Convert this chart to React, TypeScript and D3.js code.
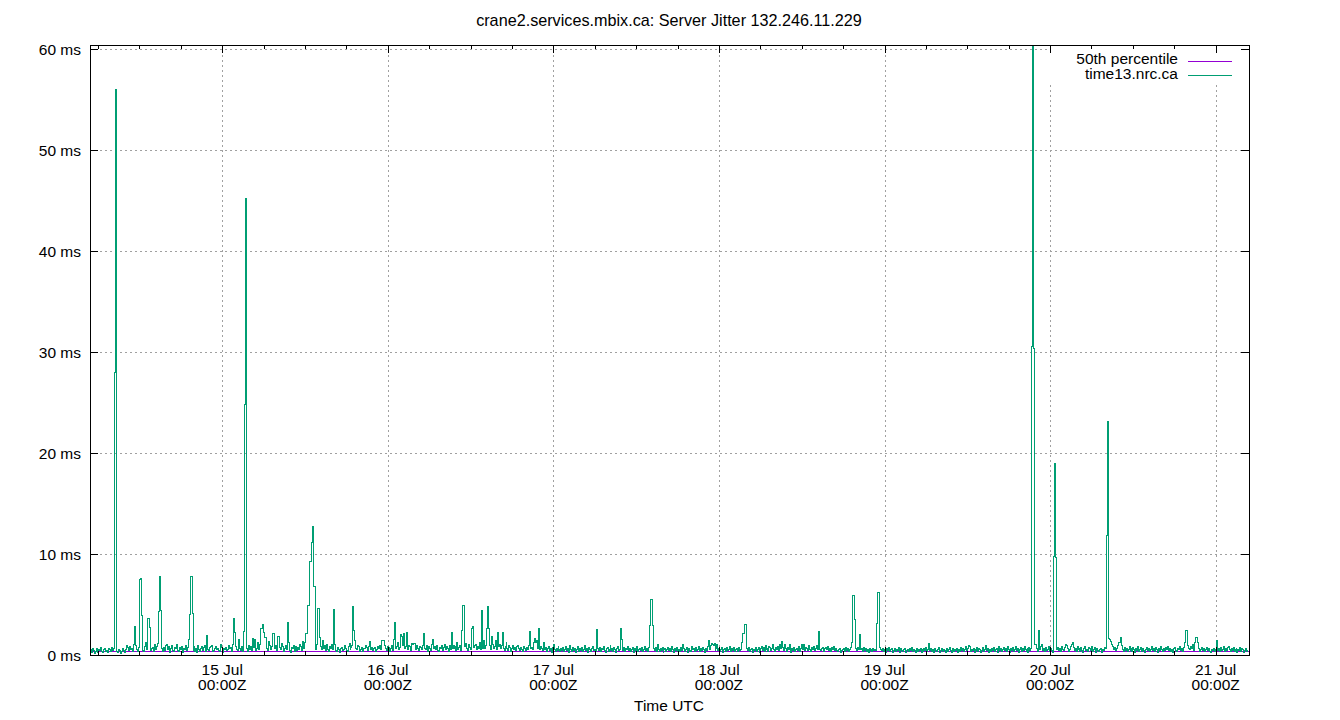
import React from "react";
import * as d3 from "d3";

const TITLE = "crane2.services.mbix.ca: Server Jitter 132.246.11.229";
const X_LABEL = "Time UTC";
const SERIES_NAMES = ["50th percentile", "time13.nrc.ca"];
const START_UTC = Date.UTC(2023, 6, 14, 4, 50);
const END_UTC = Date.UTC(2023, 6, 21, 4, 50);
const STEP_SECONDS = 512;
const MEDIAN_MS = 0.38;
const Y_MAX = 60.4;
const Y_TICKS = [0, 10, 20, 30, 40, 50, 60];
const DAY_TICKS = [15, 16, 17, 18, 19, 20, 21];

// jitter (ms), one sample every STEP_SECONDS from START_UTC
const JITTER_MS = [
  0.3, 0.5, 0.2, 0.6, 0.4, 0.1, 0.3, 0.6, 0.2, 0.5, 0.4, 0.7, 0.3, 0.2, 0.5, 0.6, 0.3, 0.4, 0.2, 0.6,
  0.5, 0.3, 0.7, 0.4, 0.6, 28.0, 56.0, 0.3, 0.2, 0.5, 0.4, 0.1, 0.3, 0.6, 0.4, 0.2, 0.5, 0.9, 0.7, 0.4,
  0.8, 0.5, 0.6, 0.3, 1.0, 2.8, 0.9, 0.5, 0.3, 0.7, 7.5, 7.6, 3.9, 0.6, 0.4, 0.3, 0.8, 1.2, 0.5, 3.6,
  3.6, 2.7, 0.4, 0.6, 0.7, 0.3, 1.0, 0.5, 0.8, 1.1, 4.3, 7.8, 4.4, 0.6, 0.3, 0.7, 0.4, 0.9, 1.0, 0.5,
  0.8, 0.2, 0.6, 0.9, 0.4, 0.3, 0.7, 0.6, 1.0, 0.4, 0.3, 0.7, 0.5, 0.8, 0.2, 0.6, 0.5, 0.9, 0.4, 0.7,
  1.5, 4.0, 7.8, 7.8, 4.1, 0.4, 0.8, 0.3, 0.6, 0.2, 0.9, 0.5, 0.3, 0.6, 0.8, 0.4, 0.7, 0.9, 0.3, 1.9,
  0.5, 0.4, 0.7, 0.8, 0.9, 0.3, 0.4, 0.6, 0.8, 0.5, 0.6, 0.4, 0.3, 1.0, 0.7, 0.2, 0.6, 0.5, 0.7, 0.4,
  0.5, 0.9, 0.6, 0.7, 0.3, 1.0, 3.6, 2.2, 0.8, 0.5, 0.4, 1.5, 0.6, 0.4, 0.8, 0.3, 2.3, 24.8, 45.2, 45.0,
  0.6, 0.3, 0.9, 0.5, 0.8, 0.4, 1.6, 0.7, 1.5, 0.4, 0.6, 1.2, 0.5, 1.0, 2.6, 2.6, 3.0, 2.2, 1.7, 1.7,
  0.6, 0.4, 1.3, 0.9, 0.5, 0.8, 2.1, 2.1, 0.6, 0.9, 0.4, 1.8, 1.8, 0.7, 0.5, 1.1, 0.8, 0.3, 0.6, 0.9,
  0.5, 3.2, 1.2, 0.4, 0.2, 0.7, 0.6, 0.9, 0.3, 0.8, 0.4, 0.7, 0.6, 0.5, 1.0, 0.8, 0.4, 1.3, 0.6, 1.2,
  2.1, 2.1, 4.9, 4.9, 9.3, 9.3, 11.1, 12.7, 6.8, 6.8, 0.5, 1.0, 4.6, 4.6, 1.7, 0.8, 0.5, 1.4, 0.6, 0.9,
  0.4, 1.0, 0.5, 0.3, 0.8, 0.6, 1.0, 0.5, 4.5, 1.0, 0.4, 0.3, 0.7, 0.5, 0.2, 0.6, 0.7, 0.4, 0.5, 0.9,
  0.6, 0.4, 0.3, 0.8, 1.1, 0.5, 0.7, 0.9, 4.8, 2.4, 1.4, 0.6, 0.5, 0.9, 0.8, 0.3, 0.5, 0.7, 0.3, 0.6,
  0.6, 0.9, 0.7, 0.4, 0.8, 1.3, 0.5, 0.7, 0.4, 0.6, 0.7, 0.3, 0.5, 0.8, 0.6, 0.9, 0.5, 1.4, 1.4, 1.4,
  0.9, 0.6, 0.4, 0.8, 0.7, 0.3, 0.6, 0.9, 0.4, 1.5, 3.2, 0.6, 0.8, 1.2, 0.5, 0.7, 2.0, 1.8, 1.8, 0.9,
  2.1, 0.6, 0.8, 2.2, 0.5, 0.9, 0.8, 0.4, 1.1, 1.0, 1.1, 1.1, 0.5, 0.9, 0.6, 0.4, 0.8, 0.7, 0.5, 0.9,
  2.1, 0.6, 0.5, 0.9, 0.3, 0.8, 0.6, 0.4, 1.0, 1.5, 0.6, 0.8, 0.5, 0.9, 0.4, 0.3, 0.7, 0.6, 0.9, 0.4,
  0.7, 1.0, 0.5, 0.8, 0.6, 0.3, 0.9, 0.5, 2.2, 0.6, 0.9, 0.6, 0.8, 0.4, 1.2, 0.5, 0.7, 0.9, 0.4, 2.4,
  4.9, 4.9, 0.8, 1.1, 0.6, 0.4, 1.0, 0.7, 0.5, 2.6, 2.8, 0.7, 0.9, 1.0, 0.5, 0.8, 0.6, 1.2, 0.5, 4.4,
  0.6, 1.4, 0.6, 0.9, 2.6, 4.8, 2.6, 0.9, 0.5, 1.8, 1.0, 0.6, 0.8, 1.4, 0.5, 2.2, 0.8, 1.0, 0.6, 0.9,
  2.2, 0.6, 0.4, 0.8, 1.2, 0.6, 0.4, 0.9, 0.7, 0.3, 0.6, 0.9, 0.5, 0.7, 0.4, 0.8, 0.9, 0.6, 0.4, 0.7,
  0.5, 0.3, 0.8, 0.6, 0.4, 0.7, 0.5, 0.9, 2.3, 0.6, 0.7, 0.5, 1.2, 1.6, 1.2, 1.4, 0.6, 2.6, 0.5, 0.8,
  0.6, 0.4, 1.2, 0.5, 0.7, 0.3, 0.6, 0.8, 0.4, 0.6, 0.2, 0.7, 1.0, 0.5, 0.3, 0.6, 0.4, 0.8, 0.5, 0.3,
  0.6, 0.4, 0.7, 0.3, 0.5, 0.8, 0.4, 0.6, 0.2, 0.9, 0.5, 0.3, 0.7, 0.4, 0.6, 0.2, 0.5, 0.8, 0.3, 0.6,
  0.4, 0.7, 0.3, 0.5, 0.9, 0.4, 0.6, 0.2, 0.7, 0.5, 0.3, 0.6, 0.8, 0.4, 0.5, 0.3, 2.5, 0.6, 0.4, 0.7,
  0.3, 0.6, 0.5, 0.8, 0.4, 0.2, 0.6, 0.7, 0.3, 0.5, 0.9, 0.4, 0.6, 0.3, 0.7, 0.5, 0.2, 0.6, 0.8, 0.4,
  0.5, 2.6, 1.5, 0.4, 0.7, 0.3, 0.6, 0.5, 0.8, 0.4, 0.6, 0.3, 0.5, 0.7, 0.2, 0.6, 0.4, 0.8, 0.3, 0.5,
  0.6, 0.4, 0.7, 0.3, 0.5, 0.8, 0.4, 0.6, 0.3, 0.7, 2.9, 5.5, 5.5, 2.9, 0.6, 0.4, 0.7, 0.3, 1.0, 0.5,
  0.3, 0.6, 0.4, 0.7, 0.2, 0.5, 0.6, 0.3, 0.5, 0.7, 0.4, 0.6, 0.3, 0.8, 0.5, 0.2, 0.6, 0.4, 0.7, 0.3,
  0.5, 0.3, 0.7, 0.4, 1.0, 0.6, 0.3, 0.5, 0.7, 0.2, 0.6, 0.4, 0.3, 0.8, 0.5, 0.6, 0.3, 0.7, 0.4, 0.5,
  0.8, 0.3, 0.6, 0.4, 0.7, 0.5, 0.2, 0.6, 0.4, 0.8, 1.4, 0.5, 0.9, 1.1, 1.0, 0.9, 1.1, 0.4, 0.6, 1.0,
  0.4, 0.6, 0.3, 0.5, 0.7, 0.2, 0.5, 0.6, 0.3, 0.7, 0.4, 0.5, 0.8, 0.3, 0.6, 0.4, 0.7, 0.3, 0.5, 0.6,
  0.3, 0.7, 0.4, 0.5, 1.2, 2.1, 2.1, 3.0, 3.0, 0.6, 0.4, 0.7, 0.3, 0.5, 0.6, 0.2, 0.5, 0.4, 0.7, 0.3,
  0.5, 0.7, 0.2, 0.6, 0.8, 0.4, 0.7, 0.3, 0.9, 0.5, 0.6, 0.3, 0.8, 0.7, 0.4, 0.6, 1.0, 0.5, 0.3, 0.7,
  0.5, 0.8, 0.4, 1.0, 0.6, 1.3, 0.7, 0.4, 1.0, 0.6, 0.3, 0.7, 0.5, 1.0, 0.2, 0.6, 0.4, 0.7, 0.3, 0.5,
  0.6, 0.4, 0.8, 0.3, 0.6, 1.0, 0.5, 1.0, 0.4, 0.7, 0.6, 0.4, 0.9, 0.5, 0.3, 0.7, 0.5, 0.8, 0.4, 0.6,
  0.9, 0.5, 2.3, 0.8, 0.5, 0.4, 0.6, 0.7, 0.3, 0.6, 0.7, 0.5, 0.8, 0.4, 0.6, 0.3, 0.7, 0.5, 0.8, 0.4,
  0.6, 0.4, 0.3, 0.5, 0.6, 0.2, 0.4, 0.5, 0.6, 0.3, 0.7, 0.4, 0.6, 0.3, 0.5, 0.7, 1.2, 5.9, 5.9, 3.5,
  0.6, 0.4, 0.7, 0.5, 2.0, 0.5, 0.6, 0.3, 0.7, 0.4, 0.6, 0.3, 0.5, 0.2, 0.6, 0.4, 0.5, 0.3, 0.6, 0.4,
  0.5, 0.4, 3.1, 6.2, 6.2, 0.7, 0.5, 0.4, 0.6, 0.3, 0.5, 0.2, 0.6, 0.4, 0.7, 0.3, 0.5, 0.6, 0.2, 0.4,
  0.6, 0.3, 0.5, 0.4, 0.7, 0.2, 0.6, 0.4, 0.3, 0.5, 0.6, 0.2, 0.4, 0.5, 0.3, 0.6, 0.4, 0.7, 0.3, 0.5,
  0.4, 0.2, 0.6, 0.3, 0.5, 0.4, 0.6, 0.2, 0.5, 0.3, 0.6, 0.4, 0.7, 0.3, 0.5, 1.1, 0.4, 0.6, 0.3, 0.5,
  0.2, 0.6, 0.4, 0.3, 0.5, 0.7, 0.2, 0.4, 0.6, 0.3, 0.5, 0.4, 0.2, 0.6, 0.3, 0.5, 0.7, 0.4, 0.2, 0.6,
  0.3, 0.5, 0.4, 0.6, 0.2, 0.5, 0.3, 0.7, 0.4, 0.6, 0.3, 0.5, 0.8, 0.4, 0.6, 0.9, 0.8, 0.3, 0.5, 0.4,
  0.6, 0.2, 0.5, 0.4, 0.7, 0.3, 0.6, 0.5, 0.2, 0.4, 0.7, 0.3, 0.5, 0.9, 0.4, 0.6, 0.2, 0.5, 0.3, 0.6,
  0.4, 0.7, 0.3, 0.5, 0.6, 0.2, 0.8, 0.4, 0.6, 0.3, 0.5, 0.7, 0.4, 0.6, 0.3, 0.8, 0.5, 0.2, 0.6, 0.4,
  0.7, 0.3, 0.5, 0.8, 0.4, 0.6, 0.2, 0.5, 0.7, 0.3, 0.6, 0.4, 0.8, 0.5, 0.3, 0.6, 0.2, 0.7, 0.4, 0.6,
  30.5, 62.0, 30.3, 1.0, 1.0, 0.6, 0.3, 2.4, 0.5, 0.8, 1.0, 0.4, 0.6, 0.3, 0.7, 0.4, 0.5, 0.8, 0.3, 0.6,
  0.4, 0.2, 9.8, 19.0, 9.7, 0.5, 0.7, 0.4, 0.6, 0.3, 0.8, 0.5, 0.4, 0.7, 1.0, 0.9, 0.6, 0.3, 0.5, 0.8,
  1.0, 1.2, 0.7, 0.4, 0.6, 0.3, 0.8, 0.5, 0.6, 0.3, 0.7, 0.4, 0.2, 0.6, 0.8, 0.4, 0.5, 0.3, 0.7, 0.6,
  0.4, 0.8, 0.3, 0.5, 0.7, 0.2, 0.6, 0.4, 0.3, 0.5, 0.6, 0.2, 0.5, 0.4, 0.7, 0.6, 11.8, 23.1, 1.6, 1.5,
  1.3, 1.0, 0.8, 0.5, 0.7, 0.4, 0.6, 0.9, 1.2, 1.2, 1.7, 0.9, 0.5, 0.3, 0.7, 0.4, 0.6, 0.3, 0.5, 0.8,
  0.4, 0.6, 0.3, 0.7, 0.5, 0.2, 0.6, 0.4, 0.8, 0.3, 0.5, 0.7, 0.3, 0.6, 0.4, 0.2, 0.5, 0.7, 0.4, 0.6,
  0.3, 0.5, 0.8, 0.4, 0.6, 0.3, 0.7, 0.5, 0.2, 0.6, 0.4, 0.8, 0.5, 0.3, 0.6, 0.4, 0.7, 0.5, 0.8, 0.4,
  0.6, 0.3, 0.5, 0.2, 0.6, 0.7, 0.4, 0.3, 0.6, 0.5, 0.8, 0.4, 0.6, 0.3, 0.5, 0.7, 1.2, 2.4, 2.4, 0.9,
  0.6, 0.5, 0.8, 0.6, 1.0, 0.4, 1.2, 1.7, 1.7, 1.2, 0.6, 0.3, 0.5, 0.7, 0.4, 0.6, 0.3, 0.5, 0.7, 0.4,
  0.6, 0.3, 0.2, 0.5, 0.4, 0.6, 0.3, 0.5, 1.4, 0.4, 0.6, 0.3, 0.7, 0.4, 0.5, 0.8, 0.3, 0.6, 0.4, 0.7,
  0.8, 0.5, 0.3, 0.6, 0.4, 0.7, 0.3, 0.5, 0.6, 0.2, 0.5, 0.4, 0.7, 0.3, 0.6, 0.5, 0.2, 0.4, 0.6, 0.3,
  0.5,
];

const W = 1340;
const H = 720;
const M = { left: 90, right: 1249, top: 45, bottom: 655 };
const FONT = "'Liberation Sans', Arial, sans-serif";
const FS = 15.5;
const GREEN = "#009e73";
const PURPLE = "#9400d3";
const GRID = "#a0a0a0";

export default function App() {
  const x = d3.scaleUtc().domain([new Date(START_UTC), new Date(END_UTC)]).range([M.left, M.right]);
  const y = d3.scaleLinear().domain([0, Y_MAX]).range([M.bottom, M.top]);

  const pts = JITTER_MS.map((v, i) => ({ t: new Date(START_UTC + i * STEP_SECONDS * 1000), v }));
  const line = d3
    .line<{ t: Date; v: number }>()
    .x((d) => x(d.t))
    .y((d) => y(d.v))
    .curve(d3.curveStepAfter);
  const medPts = [
    { t: new Date(START_UTC), v: MEDIAN_MS },
    { t: new Date(END_UTC), v: MEDIAN_MS },
  ];
  const medLine = d3
    .line<{ t: Date; v: number }>()
    .x((d) => x(d.t))
    .y((d) => y(d.v));

  const days = DAY_TICKS.map((d) => new Date(Date.UTC(2023, 6, d)));
  const minor = d3.utcHour
    .every(6)!
    .range(new Date(START_UTC), new Date(END_UTC))
    .filter((d) => d.getUTCHours() !== 0);

  const majorLen = 8;
  const minorLen = 4;

  return (
    <svg
      width={W}
      height={H}
      style={{ position: "absolute", left: 0, top: 0, background: "#fff" }}
      fontFamily={FONT}
      fontSize={FS}
    >
      <defs>
        <clipPath id="plot">
          <rect x={M.left} y={M.top} width={M.right - M.left} height={M.bottom - M.top} />
        </clipPath>
      </defs>
      <rect x={0} y={0} width={W} height={H} fill="#fff" />
      {/* grid */}
      <g stroke={GRID} strokeWidth={1} strokeDasharray="2,3" shapeRendering="crispEdges">
        {Y_TICKS.filter((t) => t > 0).map((t) => (
          <line key={"gy" + t} x1={M.left} x2={M.right} y1={Math.round(y(t)) + 0.5} y2={Math.round(y(t)) + 0.5} />
        ))}
        {days.map((d, i) => (
          <line key={"gx" + i} x1={Math.round(x(d)) + 0.5} x2={Math.round(x(d)) + 0.5} y1={M.top} y2={M.bottom} />
        ))}
      </g>
      {/* legend background */}
      <rect x={1049} y={M.top + 1} width={M.right - 1049 - 1} height={36} fill="#fff" />
      {/* data */}
      <g clipPath="url(#plot)" fill="none" strokeWidth={1} shapeRendering="crispEdges">
        <path d={medLine(medPts) || ""} stroke={PURPLE} />
        <path d={line(pts) || ""} stroke={GREEN} />
      </g>
      {/* border */}
      <rect
        x={M.left + 0.5}
        y={M.top + 0.5}
        width={M.right - M.left}
        height={M.bottom - M.top}
        fill="none"
        stroke="#000"
        strokeWidth={1}
        shapeRendering="crispEdges"
      />
      {/* ticks */}
      <g stroke="#000" strokeWidth={1} shapeRendering="crispEdges">
        {Y_TICKS.map((t) => {
          const yy = Math.round(y(t)) + 0.5;
          return (
            <g key={"ty" + t}>
              <line x1={M.left} x2={M.left + majorLen} y1={yy} y2={yy} />
              <line x1={M.right} x2={M.right - majorLen} y1={yy} y2={yy} />
            </g>
          );
        })}
        {days.map((d, i) => {
          const xx = Math.round(x(d)) + 0.5;
          return (
            <g key={"tx" + i}>
              <line x1={xx} x2={xx} y1={M.bottom} y2={M.bottom - majorLen} />
              <line x1={xx} x2={xx} y1={M.top} y2={M.top + majorLen} />
            </g>
          );
        })}
        {minor.map((d, i) => {
          const xx = Math.round(x(d)) + 0.5;
          return (
            <g key={"tm" + i}>
              <line x1={xx} x2={xx} y1={M.bottom} y2={M.bottom - minorLen} />
              <line x1={xx} x2={xx} y1={M.top} y2={M.top + minorLen} />
            </g>
          );
        })}
      </g>
      {/* y labels */}
      <g textAnchor="end" fill="#000">
        {Y_TICKS.map((t) => (
          <text key={"ly" + t} x={81} y={y(t)} dy="0.36em">
            {t} ms
          </text>
        ))}
      </g>
      {/* x labels */}
      <g textAnchor="middle" fill="#000">
        {days.map((d, i) => (
          <text key={"lx" + i} x={x(d)} y={675}>
            <tspan x={x(d)} y={675}>
              {d3.utcFormat("%-d %b")(d)}
            </tspan>
            <tspan x={x(d)} y={690}>
              {d3.utcFormat("%H:%MZ")(d)}
            </tspan>
          </text>
        ))}
      </g>
      <text x={669} y={26} textAnchor="middle" fill="#000" fontSize={16.2}>
        {TITLE}
      </text>
      <text x={669} y={711} textAnchor="middle" fill="#000">
        {X_LABEL}
      </text>
      {/* legend */}
      <g>
        <text x={1178} y={64} textAnchor="end" fill="#000">
          {SERIES_NAMES[0]}
        </text>
        <line x1={1188} x2={1232} y1={61.5} y2={61.5} stroke={PURPLE} strokeWidth={1} shapeRendering="crispEdges" />
        <text x={1178} y={79} textAnchor="end" fill="#000">
          {SERIES_NAMES[1]}
        </text>
        <line x1={1188} x2={1232} y1={75.5} y2={75.5} stroke={GREEN} strokeWidth={1} shapeRendering="crispEdges" />
      </g>
    </svg>
  );
}
